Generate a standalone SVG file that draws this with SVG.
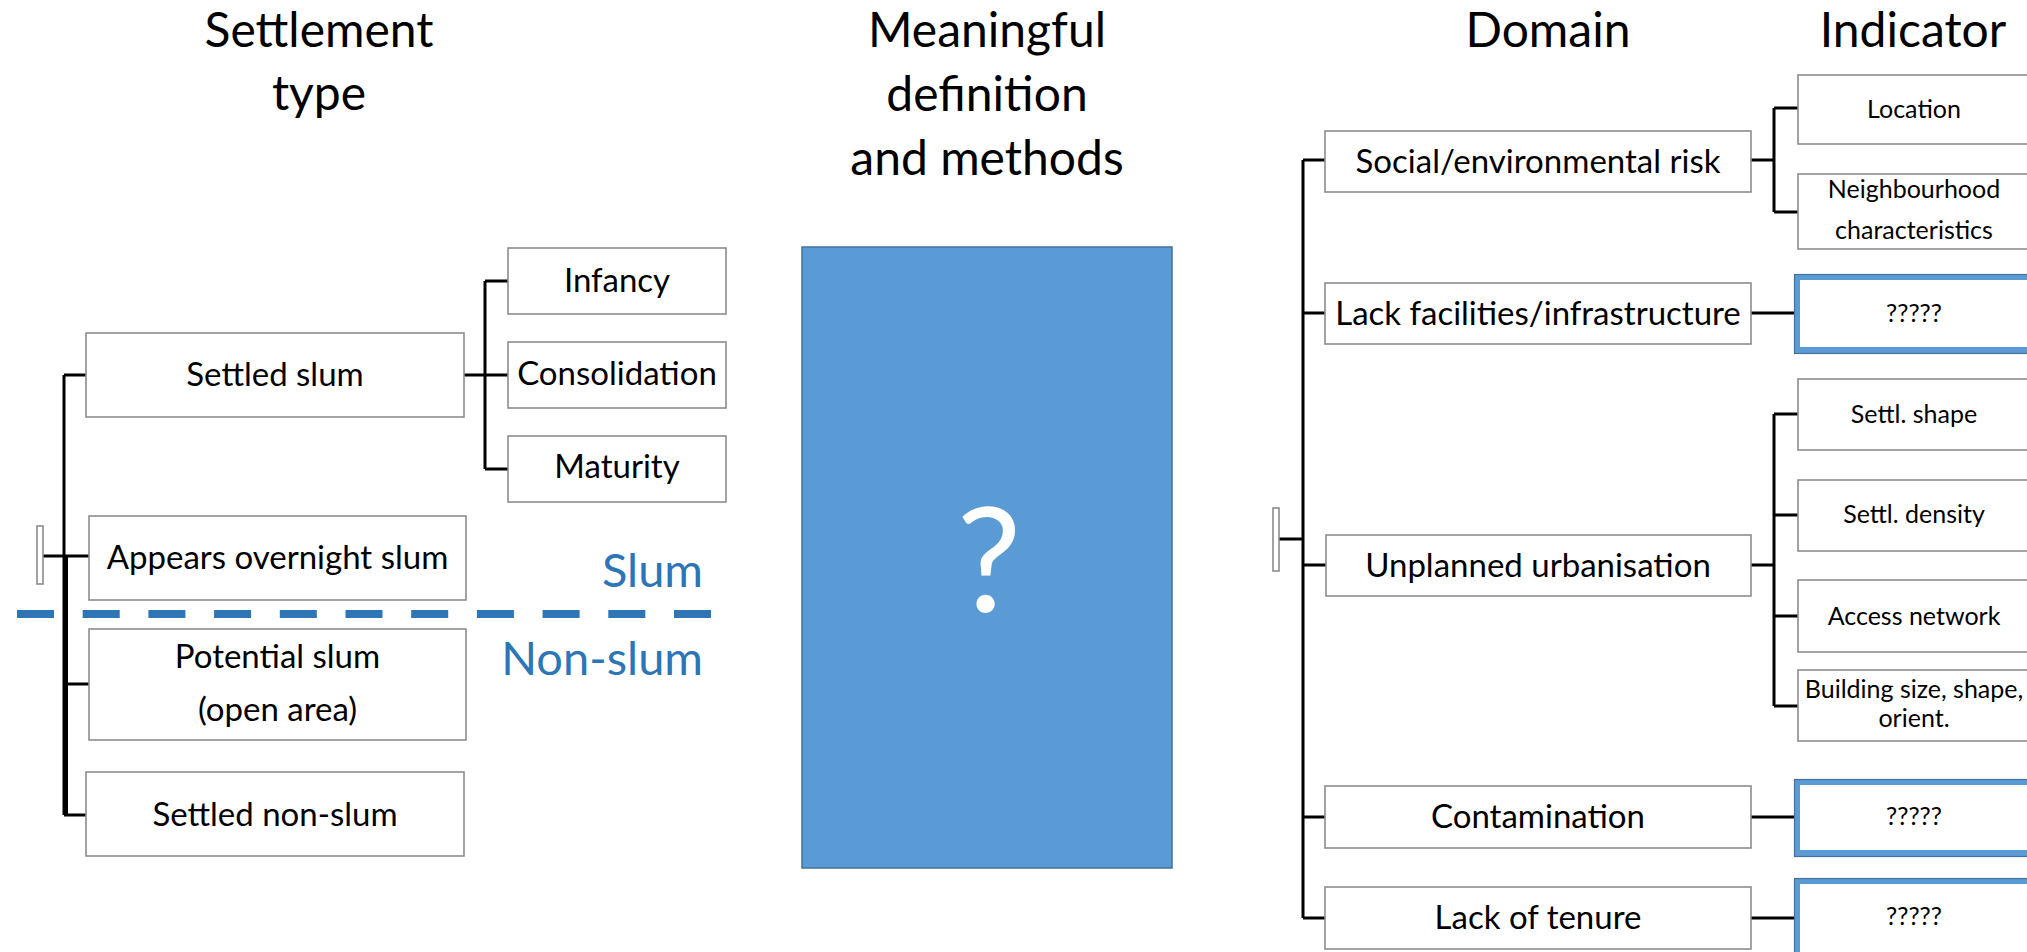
<svg xmlns="http://www.w3.org/2000/svg" width="2027" height="952" viewBox="0 0 2027 952">
  <style>
    .box { fill: #ffffff; stroke: #8c8c8c; stroke-width: 1.6; }
    .t { font-family: Lato, "Liberation Sans", sans-serif; fill: #000000; text-anchor: middle; }
    .title { font-size: 48px; }
    .lbl { font-size: 33px; }
    .sub { font-size: 25px; }
    .con { stroke: #000000; stroke-width: 3; fill: none; }
    .q { fill: #ffffff; stroke: #5b9bd5; stroke-width: 6; }
    .qo { fill: none; stroke: #41719c; stroke-width: 1.2; }
    .zone { font-family: Lato, "Liberation Sans", sans-serif; fill: #2e75b6; font-size: 47px; text-anchor: end; }
  </style>

  <rect width="2027" height="952" fill="#ffffff"/>

  <!-- column headings -->
  <g id="headings">
    <text class="t title" x="319" y="47">Settlement</text>
    <text class="t title" x="319" y="110">type</text>
    <text class="t title" x="987" y="47">Meaningful</text>
    <text class="t title" x="987" y="111">definition</text>
    <text class="t title" x="987" y="175">and methods</text>
    <text class="t title" x="1548" y="47">Domain</text>
    <text class="t title" x="1913" y="47">Indicator</text>
  </g>

  <!-- tree connectors -->
  <g id="connectors" class="con">
    <!-- settlement type tree -->
    <path d="M64 375 V815 M64 375 H86 M64 684 H89 M64 815 H86 M43 556 H89"/>
    <path d="M66.5 556 V815"/>
    <path d="M464 375 H485 M485 281 V469 M485 281 H508 M485 375 H508 M485 469 H508"/>
    <!-- domain / indicator tree -->
    <path d="M1303 160 V918 M1303 160 H1325 M1303 313 H1325 M1303 565 H1326 M1303 817 H1325 M1303 918 H1325 M1279 539 H1303"/>
    <path d="M1751 160 H1774 M1774 108 V212 M1774 108 H1798 M1774 212 H1798"/>
    <path d="M1751 313 H1794"/>
    <path d="M1751 565 H1774 M1774 414 V706 M1774 414 H1798 M1774 515 H1798 M1774 616 H1798 M1774 706 H1798"/>
    <path d="M1751 817 H1794 M1751 918 H1794"/>
  </g>

  <!-- slum / non-slum divide -->
  <g id="divide">
    <line x1="17" y1="614" x2="711" y2="614" stroke="#2e75b6" stroke-width="8" stroke-dasharray="37 28.7"/>
    <text class="zone" x="703" y="587">Slum</text>
    <text class="zone" x="703" y="675">Non-slum</text>
  </g>

  <!-- settlement type nodes -->
  <g id="root-left"><rect class="box" x="37" y="526" width="6" height="58"/></g>
  <g id="settled-slum">
    <rect class="box" x="86" y="333" width="378" height="84"/>
    <text class="t lbl" x="275" y="386">Settled slum</text>
  </g>
  <g id="infancy">
    <rect class="box" x="508" y="248" width="218" height="66"/>
    <text class="t lbl" x="617" y="292">Infancy</text>
  </g>
  <g id="consolidation">
    <rect class="box" x="508" y="342" width="218" height="66"/>
    <text class="t lbl" x="617" y="385">Consolidation</text>
  </g>
  <g id="maturity">
    <rect class="box" x="508" y="436" width="218" height="66"/>
    <text class="t lbl" x="617" y="478">Maturity</text>
  </g>
  <g id="appears-overnight">
    <rect class="box" x="89" y="516" width="377" height="84"/>
    <text class="t lbl" x="277.5" y="569">Appears overnight slum</text>
  </g>
  <g id="potential-slum">
    <rect class="box" x="89" y="629" width="377" height="111"/>
    <text class="t lbl" x="277.5" y="668">Potential slum</text>
    <text class="t lbl" x="277.5" y="721">(open area)</text>
  </g>
  <g id="settled-non-slum">
    <rect class="box" x="86" y="772" width="378" height="84"/>
    <text class="t lbl" x="275" y="826">Settled non-slum</text>
  </g>

  <!-- definition and methods -->
  <g id="methods">
    <rect x="802" y="247" width="370" height="621" fill="#5b9bd5" stroke="#41719c" stroke-width="1.5"/>
    <text x="989" y="612" font-family="Lato, 'Liberation Sans', sans-serif" font-size="145" fill="#ffffff" text-anchor="middle">?</text>
  </g>

  <!-- domain nodes -->
  <g id="root-right"><rect class="box" x="1273" y="508" width="6" height="63"/></g>
  <g id="social-risk">
    <rect class="box" x="1325" y="131" width="426" height="61"/>
    <text class="t lbl" x="1538" y="173">Social/environmental risk</text>
  </g>
  <g id="lack-facilities">
    <rect class="box" x="1325" y="283" width="426" height="61"/>
    <text class="t lbl" x="1538" y="325">Lack facilities/infrastructure</text>
  </g>
  <g id="unplanned">
    <rect class="box" x="1326" y="535" width="425" height="61"/>
    <text class="t lbl" x="1538" y="577">Unplanned urbanisation</text>
  </g>
  <g id="contamination">
    <rect class="box" x="1325" y="786" width="426" height="62"/>
    <text class="t lbl" x="1538" y="828">Contamination</text>
  </g>
  <g id="tenure">
    <rect class="box" x="1325" y="887" width="426" height="62"/>
    <text class="t lbl" x="1538" y="929">Lack of tenure</text>
  </g>

  <!-- indicator nodes -->
  <g id="location">
    <rect class="box" x="1798" y="75" width="250" height="69"/>
    <text class="t sub" x="1914" y="118">Location</text>
  </g>
  <g id="neighbourhood">
    <rect class="box" x="1798" y="174" width="250" height="75"/>
    <text class="t sub" x="1914" y="198">Neighbourhood</text>
    <text class="t sub" x="1914" y="239">characteristics</text>
  </g>
  <g id="facilities-indicator">
    <rect class="q" x="1797" y="277" width="260" height="73"/>
    <rect class="qo" x="1794.5" y="274.5" width="266" height="79"/>
    <text class="t sub" x="1914" y="322">?????</text>
  </g>
  <g id="settl-shape">
    <rect class="box" x="1798" y="379" width="250" height="71"/>
    <text class="t sub" x="1914" y="423">Settl. shape</text>
  </g>
  <g id="settl-density">
    <rect class="box" x="1798" y="480" width="250" height="71"/>
    <text class="t sub" x="1914" y="523">Settl. density</text>
  </g>
  <g id="access-network">
    <rect class="box" x="1798" y="580" width="250" height="72"/>
    <text class="t sub" x="1914" y="625">Access network</text>
  </g>
  <g id="building">
    <rect class="box" x="1798" y="670" width="250" height="71"/>
    <text class="t sub" x="1914" y="698">Building size, shape,</text>
    <text class="t sub" x="1914" y="727">orient.</text>
  </g>
  <g id="contamination-indicator">
    <rect class="q" x="1797" y="782" width="260" height="71"/>
    <rect class="qo" x="1794.5" y="779.5" width="266" height="77"/>
    <text class="t sub" x="1914" y="825">?????</text>
  </g>
  <g id="tenure-indicator">
    <rect class="q" x="1797" y="881" width="260" height="80"/>
    <rect class="qo" x="1794.5" y="878.5" width="266" height="86"/>
    <text class="t sub" x="1914" y="925">?????</text>
  </g>
</svg>
